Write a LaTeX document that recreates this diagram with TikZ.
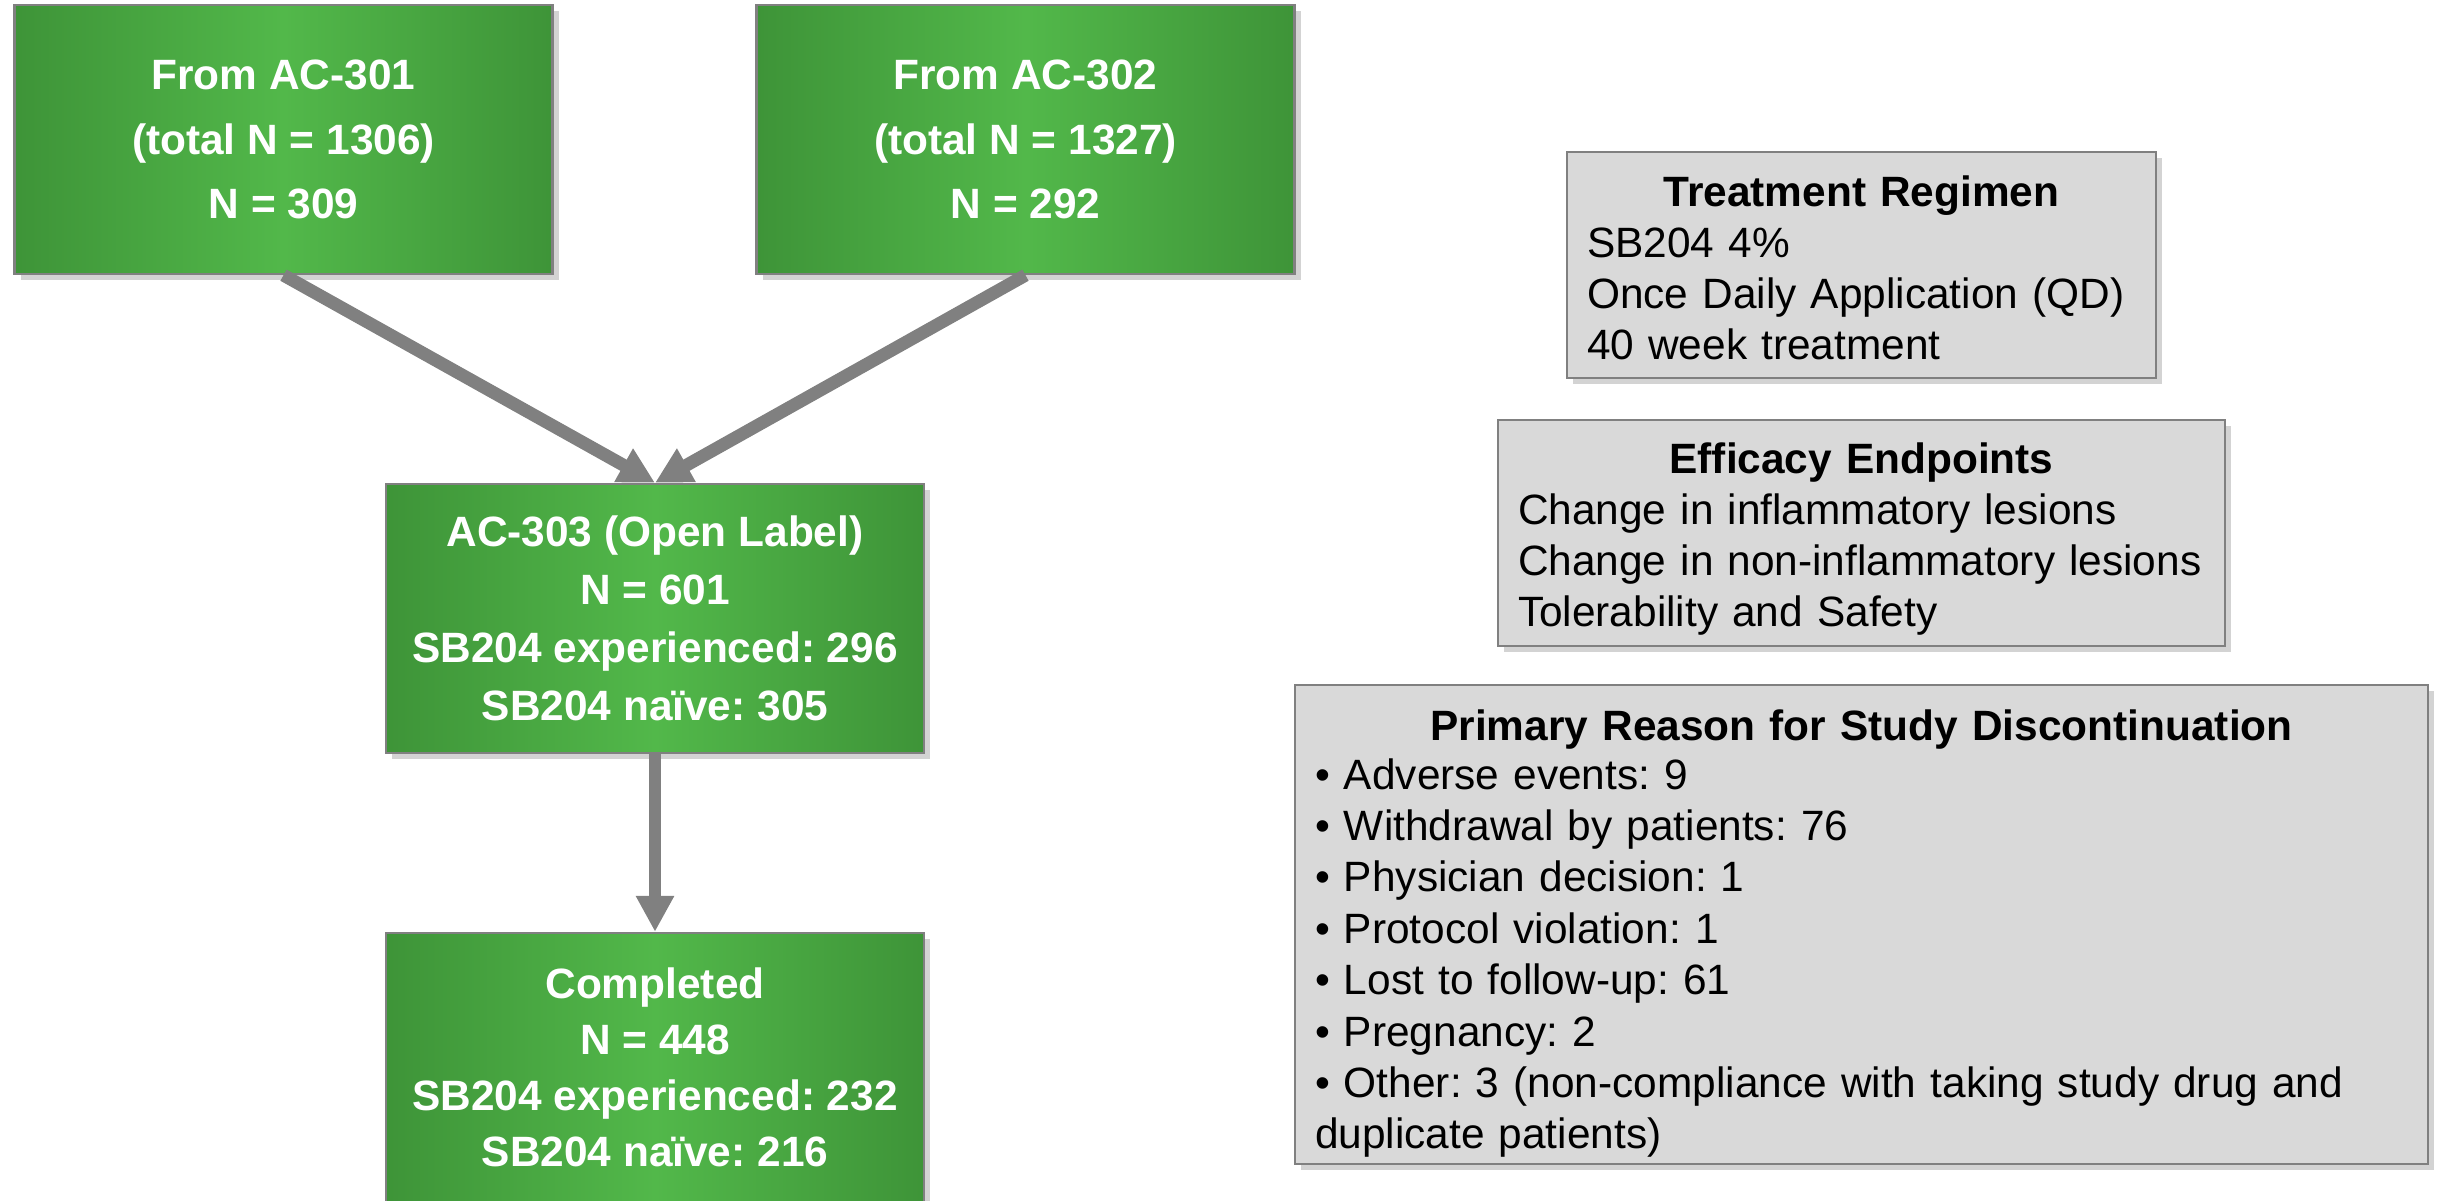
\documentclass[tikz,border=0pt]{standalone}
\usepackage{fontspec}
\setmainfont{Liberation Sans}
\usetikzlibrary{arrows.meta,shadows}
\frenchspacing
\definecolor{gdark}{RGB}{62,148,56}
\definecolor{glight}{RGB}{82,184,74}
\definecolor{boxgray}{RGB}{217,217,217}
\definecolor{edgegray}{RGB}{128,128,128}
\begin{document}
\begin{tikzpicture}[x=0.25pt,y=-0.25pt,
  study/.style={draw=edgegray,line width=0.6pt,left color=gdark,right color=gdark,middle color=glight,
    text=white,font=\fontsize{10.6}{14.5}\selectfont\bfseries,align=center,
    minimum width=134.5pt,minimum height=67.25pt,inner sep=0pt,
    drop shadow={shadow xshift=1.5pt,shadow yshift=-1.5pt,opacity=0.35}},
  info/.style={draw=edgegray,line width=0.5pt,fill=boxgray,align=left,
    font=\fontsize{10.6}{12.7}\selectfont,inner xsep=5pt,inner ysep=0pt,
    drop shadow={shadow xshift=1.5pt,shadow yshift=-1.5pt,opacity=0.35}},
  flow/.style={draw=edgegray,line width=3.2pt,-{Triangle[width=9pt,length=9pt]}}]
\useasboundingbox (0,0) rectangle (2440,1200);
% --- study boxes ---
\node[study] (ac301) at (283.5,139.5) {From AC-301\\[1.6pt](total N = 1306)\\[1.6pt]N = 309};
\node[study] (ac302) at (1025.5,139.5) {From AC-302\\[1.6pt](total N = 1327)\\[1.6pt]N = 292};
\node[study] (ac303) at (655,618.5) {AC-303 (Open Label)\\N = 601\\SB204 experienced: 296\\SB204 naïve: 305};
\node[study] (done) at (655,1067.5) {Completed\\[-0.5pt]N = 448\\[-0.5pt]SB204 experienced: 232\\[-0.5pt]SB204 naïve: 216};
% --- flow arrows ---
\draw[flow] (ac301.south) -- (ac303.north);
\draw[flow] (ac302.south) -- (ac303.north);
\draw[flow] (ac303.south) -- (done.north);
% --- info panels ---
\node[info,text width=137.25pt,minimum height=56.5pt] (regimen) at (1861.5,265)
  {\centering\rule{0pt}{9pt}\textbf{Treatment Regimen}\par\raggedright
   SB204 4\%\\Once Daily Application (QD)\\40 week treatment};
\node[info,text width=171.75pt,minimum height=56.5pt] (endpts) at (1861.5,533)
  {\centering\rule{0pt}{10.7pt}\textbf{Efficacy Endpoints}\par\raggedright
   Change in inflammatory lesions\\Change in non-inflammatory lesions\\Tolerability and Safety};
\node[info,text width=273.25pt,minimum height=119.75pt,font=\fontsize{10.6}{12.85}\selectfont] (reasons) at (1861.5,924.5)
  {\centering\rule{0pt}{12.2pt}\textbf{Primary Reason for Study Discontinuation}\par\vspace{-0.6pt}\raggedright
   • Adverse events: 9\\• Withdrawal by patients: 76\\• Physician decision: 1\\
   • Protocol violation: 1\\• Lost to follow-up: 61\\• Pregnancy: 2\\
   • Other: 3 (non-compliance with taking study drug and\\duplicate patients)};
\end{tikzpicture}
\end{document}
